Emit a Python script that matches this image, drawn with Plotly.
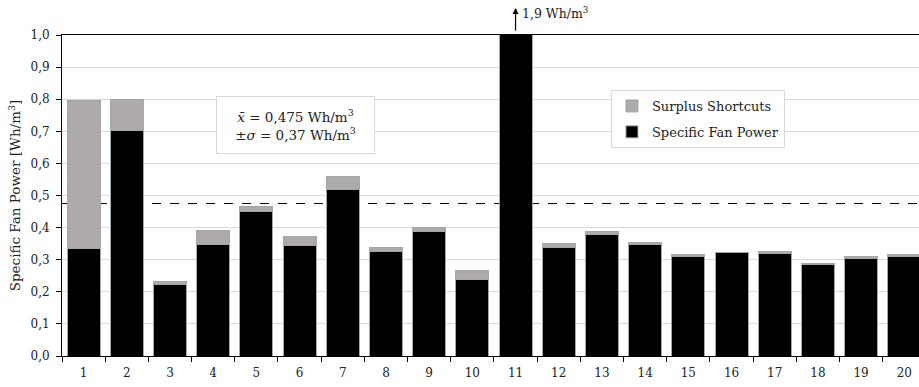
import plotly.graph_objects as go

# Ventilation units 1..20
units = [str(i) for i in range(1, 21)]

# Specific fan power per unit [Wh/m3]
sfp = [0.336, 0.703, 0.222, 0.348, 0.451, 0.343, 0.518, 0.325, 0.387, 0.238,
       1.9, 0.337, 0.378, 0.348, 0.309, 0.322, 0.320, 0.286, 0.304, 0.309]

# Additional power caused by surplus shortcuts [Wh/m3]
surplus = [0.461, 0.097, 0.009, 0.044, 0.014, 0.028, 0.040, 0.014, 0.013, 0.028,
           0.0, 0.012, 0.009, 0.005, 0.007, 0.001, 0.006, 0.003, 0.005, 0.007]

# Summary statistics of the total specific fan power
mean_value = 0.475
std_value = 0.37

# Tick labels of the value axis
y_ticks = [0.0, 0.1, 0.2, 0.3, 0.4, 0.5, 0.6, 0.7, 0.8, 0.9, 1.0]

FONT = "DejaVu Serif"
TEXT = "#222222"


def comma(v, digits):
    return f"{v:.{digits}f}".replace(".", ",")


fig = go.Figure()

fig.add_trace(go.Bar(
    x=units, y=sfp, name="Specific Fan Power",
    marker=dict(color="#000000", line=dict(color="#a6a6a6", width=1)),
    legendgroup="sfp", legendrank=2,
))
fig.add_trace(go.Bar(
    x=units, y=surplus, name="Surplus Shortcuts",
    marker=dict(color="#aeaaaa", line=dict(color="#a6a6a6", width=1)),
    legendgroup="surplus", legendrank=1,
))

# mean line behind the bars
fig.add_shape(type="line", xref="paper", yref="y", x0=0, x1=1,
              y0=mean_value, y1=mean_value, layer="below",
              line=dict(color="black", width=1, dash="dash"))

# out-of-range marker for the unit whose bar leaves the axis
big = max(sfp)
big_pos = sfp.index(big)
fig.add_annotation(x=big_pos, xref="x", y=1.084, yref="paper", text="",
                   showarrow=True, ax=0, ay=24, arrowhead=2, arrowsize=1,
                   arrowwidth=1.2, arrowcolor="black")
fig.add_annotation(x=big_pos, xref="x", y=1.068, yref="paper",
                   text=f"{comma(big, 1)} Wh/m<sup>3</sup>", showarrow=False,
                   xanchor="left", yanchor="middle", xshift=4,
                   font=dict(family=FONT, size=12.5, color=TEXT))

# statistics box
fig.add_annotation(
    x=0.2725, y=0.7196, xref="paper", yref="paper", showarrow=False,
    xanchor="center", yanchor="middle",
    text=(f"<i>x\u0304</i> = {comma(mean_value, 3)} Wh/m<sup>3</sup><br>"
          f"±<i>σ</i> = {comma(std_value, 2)} Wh/m<sup>3</sup>"),
    width=155, height=54, align="center", valign="middle",
    bordercolor="#d9d9d9", borderwidth=1, bgcolor="white",
    font=dict(family=FONT, size=13.5, color=TEXT),
)

fig.update_layout(
    width=919, height=387,
    margin=dict(l=62, r=0, t=35, b=31),
    barmode="stack", bargap=0.236,
    plot_bgcolor="white", paper_bgcolor="white",
    separators=", ",
    font=dict(family=FONT, size=12, color=TEXT),
    showlegend=True,
    legend=dict(
        x=0.8436, y=0.8287, xanchor="right", yanchor="top",
        traceorder="grouped", tracegroupgap=6,
        bordercolor="#d9d9d9", borderwidth=1, bgcolor="white",
        font=dict(family=FONT, size=13, color=TEXT),
    ),
)

fig.update_xaxes(
    type="category", range=[-0.5, 19.34],
    showline=True, linecolor="black", linewidth=1, mirror=True,
    ticks="outside", tickson="boundaries", ticklen=5, tickcolor="black",
    ticklabelstandoff=6,
    showgrid=False, tickfont=dict(family=FONT, size=12, color=TEXT),
)

fig.update_yaxes(
    range=[0, 1], tickvals=y_ticks,
    ticktext=[comma(v, 1) for v in y_ticks],
    showline=True, linecolor="black", linewidth=1,
    ticks="outside", ticklen=5, tickcolor="black",
    ticklabelstandoff=4,
    showgrid=True, gridcolor="#d9d9d9", gridwidth=1,
    zeroline=False,
    tickfont=dict(family=FONT, size=12, color=TEXT),
    title=dict(text="Specific Fan Power [Wh/m<sup>3</sup>]", standoff=6,
               font=dict(family=FONT, size=13.5, color=TEXT)),
)

fig.write_html("out.html")
